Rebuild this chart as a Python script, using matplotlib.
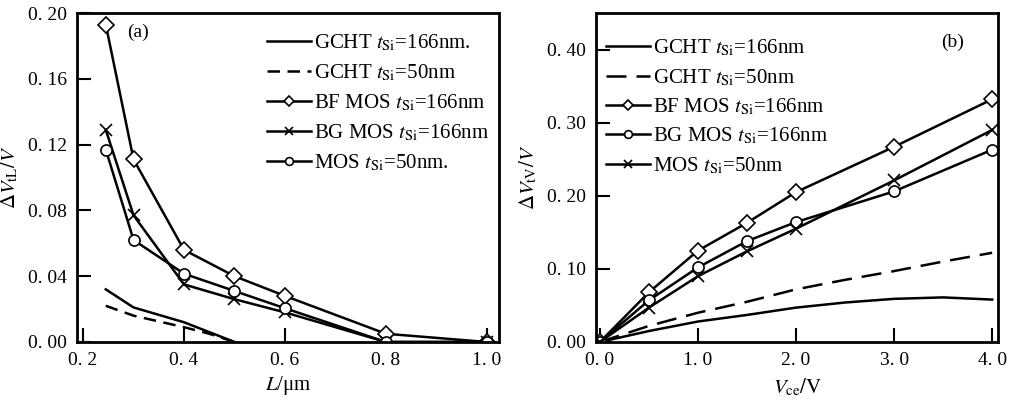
import numpy as np
import matplotlib
matplotlib.use("Agg")
import matplotlib.pyplot as plt

plt.rcParams['font.family'] = ['Liberation Serif', 'DejaVu Serif']
plt.rcParams['mathtext.fontset'] = 'stix'

# ---- panel (a): threshold shift vs channel length ----
L_gcht = [0.245, 0.30, 0.40, 0.45, 0.50]
a_gcht166 = [0.032, 0.021, 0.012, 0.006, 0.0]
a_gcht50 = [0.022, 0.016, 0.009, 0.005, 0.0]

L_mos = [0.245, 0.30, 0.40, 0.50, 0.60, 0.80, 1.00]
a_bf166 = [0.193, 0.111, 0.056, 0.040, 0.028, 0.005, 0.0]
a_bg166 = [0.129, 0.077, 0.035, 0.026, 0.018, 0.0, 0.0]
a_mos50 = [0.117, 0.062, 0.0415, 0.031, 0.0205, 0.0, 0.0]

# ---- panel (b): threshold shift vs Vce ----
V_gcht = [0.0, 0.5, 1.0, 1.5, 2.0, 2.5, 3.0, 3.5, 4.0]
b_gcht166 = [0.0, 0.015, 0.028, 0.037, 0.047, 0.054, 0.059, 0.061, 0.058]
b_gcht50 = [0.0, 0.022, 0.040, 0.055, 0.072, 0.085, 0.097, 0.110, 0.122]

V_mos = [0.0, 0.5, 1.0, 1.5, 2.0, 3.0, 4.0]
b_bf166 = [0.0, 0.068, 0.125, 0.163, 0.205, 0.267, 0.332]
b_bg166 = [0.0, 0.057, 0.102, 0.138, 0.164, 0.206, 0.263]
b_mos50 = [0.0, 0.047, 0.090, 0.124, 0.155, 0.221, 0.290]

a_xticks = [0.2, 0.4, 0.6, 0.8, 1.0]
a_yticks = [0.0, 0.04, 0.08, 0.12, 0.16, 0.20]
b_xticks = [0.0, 1.0, 2.0, 3.0, 4.0]
b_yticks = [0.0, 0.10, 0.20, 0.30, 0.40]


def lab(x, nd):
    return f"{x:.{nd}f}".replace(".", ". ")


fig = plt.figure(figsize=(10.16, 4.03), dpi=100)
axa = fig.add_axes([0.0758, 0.1514, 0.4153, 0.8163])
axb = fig.add_axes([0.5866, 0.1514, 0.3957, 0.8163])

lw = 1.8
mk = dict(markerfacecolor='white', markeredgecolor='k', markeredgewidth=1.2)

# panel a
axa.plot(L_gcht, a_gcht166, '-', color='k', lw=lw, label=r'GCHT $t_{\rm Si}$=166nm.')
axa.plot(L_gcht, a_gcht50, color='k', lw=lw, ls=(0, (5, 3)), label=r'GCHT $t_{\rm Si}$=50nm')
axa.plot(L_mos, a_bf166, '-D', color='k', lw=lw, ms=8, label=r'BF MOS $t_{\rm Si}$=166nm', **mk)
axa.plot(L_mos, a_bg166, '-x', color='k', lw=lw, ms=8, label=r'BG MOS $t_{\rm Si}$=166nm', **mk)
axa.plot(L_mos, a_mos50, '-o', color='k', lw=lw, ms=8, label=r'MOS $t_{\rm Si}$=50nm.', **mk)
axa.set_xlim(0.188, 1.024)
axa.set_ylim(0, 0.20)
axa.set_xticks(a_xticks, [lab(v, 1) for v in a_xticks])
axa.set_yticks(a_yticks, [lab(v, 2) for v in a_yticks])
axa.set_xlabel(r'$L$/μm', fontsize=15, labelpad=4)
axa.set_ylabel(r'$\Delta V_{\rm tL}/V$', fontsize=15, labelpad=6)
axa.text(0.145, 0.94, '(a)', transform=axa.transAxes, fontsize=14, ha='center', va='center')
axa.legend(loc='upper left', bbox_to_anchor=(0.45, 0.94), frameon=False, fontsize=15,
           borderpad=0, borderaxespad=0, handlelength=2.1, handletextpad=0.15,
           labelspacing=0.45, markerscale=0.7, numpoints=1)

# panel b
axb.plot(V_gcht, b_gcht166, '-', color='k', lw=lw, label=r'GCHT $t_{\rm Si}$=166nm')
axb.plot(V_gcht, b_gcht50, color='k', lw=lw, ls=(0, (8, 4)), label=r'GCHT $t_{\rm Si}$=50nm')
axb.plot(V_mos, b_bf166, '-D', color='k', lw=lw, ms=8, label=r'BF MOS $t_{\rm Si}$=166nm', **mk)
axb.plot(V_mos, b_bg166, '-o', color='k', lw=lw, ms=8, label=r'BG MOS $t_{\rm Si}$=166nm', **mk)
axb.plot(V_mos, b_mos50, '-x', color='k', lw=lw, ms=8, label=r'MOS $t_{\rm Si}$=50nm', **mk)
axb.set_xlim(-0.04, 4.06)
axb.set_ylim(0, 0.45)
axb.set_xticks(b_xticks, [lab(v, 1) for v in b_xticks])
axb.set_yticks(b_yticks, [lab(v, 2) for v in b_yticks])
axb.set_xlabel(r'$V_{\rm ce}/{\rm V}$', fontsize=15, labelpad=6)
axb.set_ylabel(r'$\Delta V_{\rm tV}/V$', fontsize=15, labelpad=6)
axb.text(0.888, 0.912, '(b)', transform=axb.transAxes, fontsize=14, ha='center', va='center')
axb.legend(loc='upper left', bbox_to_anchor=(0.025, 0.925), frameon=False, fontsize=15,
           borderpad=0, borderaxespad=0, handlelength=2.1, handletextpad=0.15,
           labelspacing=0.42, markerscale=0.7, numpoints=1)

for ax in (axa, axb):
    for s in ax.spines.values():
        s.set_linewidth(2.0)
    ax.tick_params(direction='in', length=10, width=1.5, labelsize=14, pad=7)

fig.savefig('out.png', dpi=100)
